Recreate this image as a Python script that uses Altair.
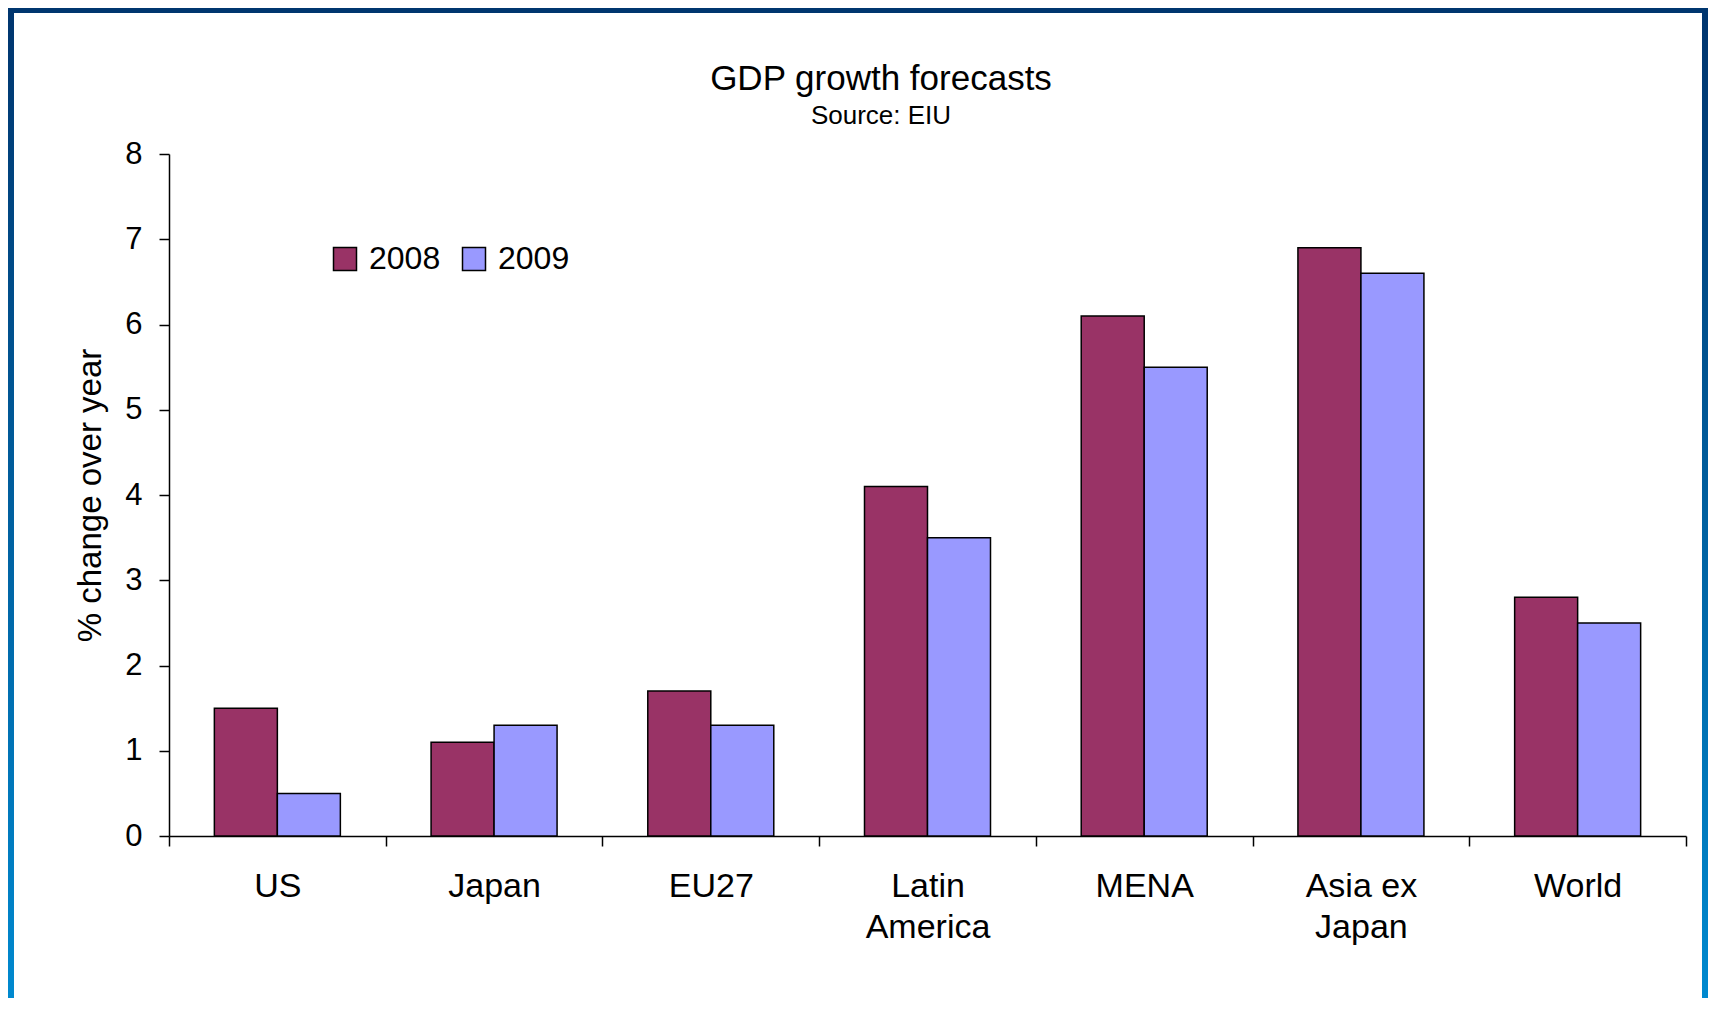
import altair as alt
import pandas as pd

# ---- data ----
regions = ["US", "Japan", "EU27", "Latin America", "MENA", "Asia ex Japan", "World"]
label_lines = {"Latin America": ["Latin", "America"], "Asia ex Japan": ["Asia ex", "Japan"]}
years = ["2008", "2009"]
values_2008 = [1.5, 1.1, 1.7, 4.1, 6.1, 6.9, 2.8]
values_2009 = [0.5, 1.3, 1.3, 3.5, 5.5, 6.6, 2.5]
y_ticks = [0, 1, 2, 3, 4, 5, 6, 7, 8]
colors = ["#993366", "#9999FF"]
title_text = "GDP growth forecasts"
subtitle_text = "Source: EIU"

rows = []
for r, a, b in zip(regions, values_2008, values_2009):
    rows.append({"region": r, "year": years[0], "value": a})
    rows.append({"region": r, "year": years[1], "value": b})
df = pd.DataFrame(rows)

FONT = "Liberation Sans"

label_expr = "datum.value"
for k, v in label_lines.items():
    label_expr = f"datum.value == '{k}' ? {v!r} : (" + label_expr + ")"

bars = alt.Chart(df).mark_bar(stroke="black", strokeWidth=1.5).encode(
    x=alt.X(
        "region:N",
        sort=regions,
        scale=alt.Scale(paddingInner=0, paddingOuter=0),
        axis=alt.Axis(
            title=None, labelAngle=0, tickBand="extent", labelExpr=label_expr,
            labelFont=FONT, labelFontSize=34, labelColor="black", labelPadding=23,
            labelLineHeight=41, tickSize=10, tickColor="black", tickWidth=1.5,
            domainColor="black", domainWidth=1.5,
        ),
    ),
    xOffset=alt.XOffset("year:N", scale=alt.Scale(paddingInner=0, paddingOuter=0.72)),
    y=alt.Y(
        "value:Q",
        scale=alt.Scale(domain=[0, 8], nice=False),
        axis=alt.Axis(
            values=y_ticks, grid=False, title="% change over year",
            titleFont=FONT, titleFontSize=33, titleFontWeight="normal", titleColor="black",
            titleAngle=-90, titleX=-79, titleY=341, titleAlign="center", titleBaseline="middle",
            labelFont=FONT, labelFontSize=31, labelColor="black", labelPadding=17,
            tickSize=10, tickColor="black", tickWidth=1.5,
            domainColor="black", domainWidth=1.5,
        ),
    ),
    color=alt.Color(
        "year:N",
        scale=alt.Scale(domain=years, range=colors),
        legend=alt.Legend(
            title=None, orient="none", legendX=160, legendY=89, direction="horizontal",
            symbolType="square", symbolSize=529, symbolStrokeColor="black",
            symbolStrokeWidth=1.5, symbolOpacity=1, labelFont=FONT, labelFontSize=32,
            labelColor="black", labelOffset=8, columnPadding=17, padding=0,
        ),
    ),
)

one = alt.Data(values=[{"k": 1}])
title_mark = alt.Chart(one).mark_text(
    text=title_text, font=FONT, fontSize=35, color="black", align="center", baseline="alphabetic"
).encode(x=alt.value(712), y=alt.value(-64))
subtitle_mark = alt.Chart(one).mark_text(
    text=subtitle_text, font=FONT, fontSize=26, color="black", align="center", baseline="alphabetic"
).encode(x=alt.value(712), y=alt.value(-30))

grad = alt.LinearGradient(
    gradient="linear",
    stops=[alt.GradientStop(offset=0, color="#00356e"), alt.GradientStop(offset=1, color="#0089cf")],
    x1=0, x2=0, y1=0, y2=1,
)
frame_left = alt.Chart(one).mark_rect(fill=grad).encode(
    x=alt.value(-161), x2=alt.value(-155), y=alt.value(-146), y2=alt.value(844))
frame_right = alt.Chart(one).mark_rect(fill=grad).encode(
    x=alt.value(1533), x2=alt.value(1539), y=alt.value(-146), y2=alt.value(844))
frame_top = alt.Chart(one).mark_rect(fill="#00366f").encode(
    x=alt.value(-161), x2=alt.value(1539), y=alt.value(-146), y2=alt.value(-141))

chart = alt.layer(bars, title_mark, subtitle_mark, frame_left, frame_right, frame_top).properties(
    width=1517,
    height=682,
    padding={"left": 161, "top": 146, "right": 22, "bottom": 162},
    autosize=alt.AutoSizeParams(type="none"),
).configure_view(stroke=None)

chart.save("out.html", embed_options={"renderer": "svg", "actions": False})
